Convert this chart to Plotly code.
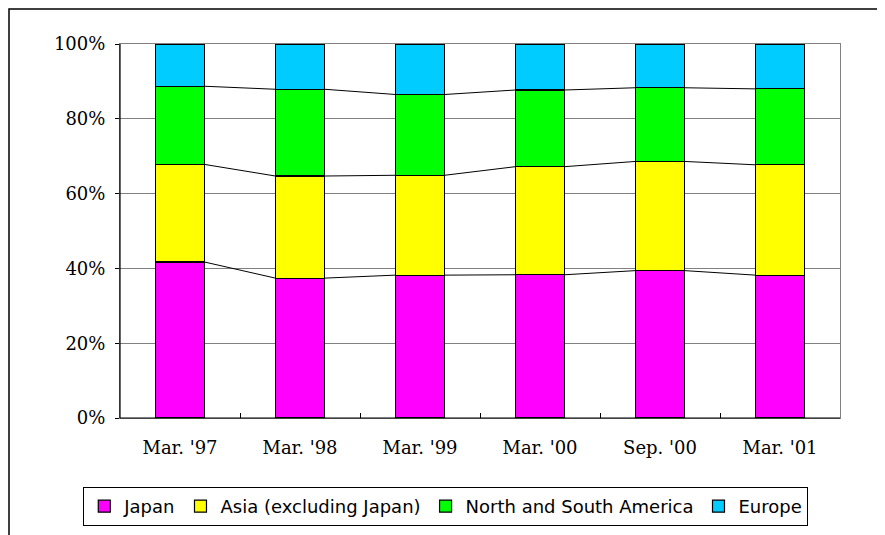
import plotly.graph_objects as go

categories = ["Mar. '97", "Mar. '98", "Mar. '99", "Mar. '00", "Sep. '00", "Mar. '01"]
japan = [41.7, 37.4, 38.2, 38.3, 39.4, 38.2]
asia = [26.1, 27.3, 26.7, 28.9, 29.2, 29.5]
americas = [20.9, 23.2, 21.6, 20.5, 19.7, 20.3]
europe = [11.3, 12.1, 13.5, 12.3, 11.7, 12.0]
y_ticks = [0, 20, 40, 60, 80, 100]

series = [
    ("Japan", japan, "#FF00FF"),
    ("Asia (excluding Japan)", asia, "#FFFF00"),
    ("North and South America", americas, "#00FF00"),
    ("Europe", europe, "#00CCFF"),
]

bar_w = 0.41
xs = list(range(len(categories)))

fig = go.Figure()
for name, vals, col in series:
    fig.add_trace(go.Bar(
        x=xs, y=vals, name=name, width=bar_w,
        marker=dict(color=col, line=dict(color="black", width=1.2)),
    ))

# connector lines between stacked boundaries
cum = [0.0] * len(categories)
for name, vals, col in series[:-1]:
    cum = [c + v for c, v in zip(cum, vals)]
    lx, ly = [], []
    for i in range(len(categories) - 1):
        lx += [xs[i] + bar_w / 2, xs[i + 1] - bar_w / 2, None]
        ly += [cum[i], cum[i + 1], None]
    fig.add_trace(go.Scatter(x=lx, y=ly, mode="lines", showlegend=False,
                             line=dict(color="black", width=1), hoverinfo="skip"))

serif = "DejaVu Serif"
# figure is offset by the page's 8px body margin
W, H = 877, 527
L, R, T, B = 112, 45, 36, 117
plot_h = H - T - B

fig.update_layout(
    width=W, height=H,
    margin=dict(l=L, r=R, t=T, b=B, autoexpand=False),
    barmode="stack",
    paper_bgcolor="white", plot_bgcolor="white",
    showlegend=True,
    legend=dict(
        orientation="h", x=-0.051, y=-69 / plot_h, xanchor="left", yanchor="top",
        bordercolor="black", borderwidth=1,
        font=dict(family="DejaVu Sans", size=18, color="black"),
        traceorder="normal", itemwidth=30,
    ),
    xaxis=dict(
        range=[-0.5, len(categories) - 0.5],
        tickmode="array", tickvals=xs, ticktext=categories, ticks="",
        tickfont=dict(family=serif, size=18, color="black"),
        showgrid=False, showline=True, linecolor="#808080", linewidth=1, mirror=True,
        ticklabelstandoff=13,
        minor=dict(tickmode="array", tickvals=[i + 0.5 for i in xs[:-1]],
                   ticks="inside", ticklen=5, tickcolor="black", showgrid=False),
        zeroline=False,
    ),
    yaxis=dict(
        range=[0, 100], tickmode="array", tickvals=y_ticks,
        ticktext=[f"{v}%" for v in y_ticks],
        tickfont=dict(family=serif, size=18, color="black"),
        showgrid=True, gridcolor="#808080", gridwidth=1,
        showline=True, linecolor="#808080", linewidth=1, mirror=True,
        ticks="outside", ticklen=4, tickcolor="black",
        zeroline=False, ticklabelstandoff=6,
    ),
    shapes=[
        dict(type="line", xref="paper", yref="paper", x0=0, x1=0, y0=0, y1=1,
             line=dict(color="black", width=1.2), layer="above"),
        dict(type="line", xref="paper", yref="paper", x0=0, x1=1, y0=0, y1=0,
             line=dict(color="black", width=1.2), layer="above"),
        dict(type="rect", xref="paper", yref="paper",
             x0=-(L - 1) / (W - L - R), x1=1.2, y0=-0.6, y1=(plot_h + T - 1) / plot_h,
             line=dict(color="black", width=1.5), fillcolor="rgba(0,0,0,0)"),
    ],
)

fig.write_html("out.html")
